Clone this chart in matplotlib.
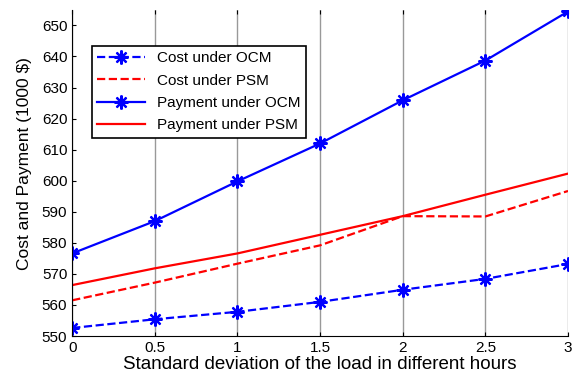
import numpy as np
import matplotlib.pyplot as plt

plt.rcParams['font.family'] = ['Liberation Sans', 'DejaVu Sans']

std_dev = [0, 0.5, 1, 1.5, 2, 2.5, 3]
cost_ocm = [552.6, 555.4, 557.8, 561.0, 564.9, 568.4, 573.2]
cost_psm = [561.5, 567.2, 573.3, 579.2, 588.6, 588.5, 596.7]
pay_ocm = [576.6, 587.0, 599.8, 612.0, 625.9, 638.7, 654.5]
pay_psm = [566.4, 571.8, 576.6, 582.6, 588.6, 595.5, 602.3]

fig = plt.figure(figsize=(5.82, 3.81), dpi=100)
ax = fig.add_axes([0.124, 0.118, 0.852, 0.856])

star = (8, 2, 0)
ax.plot(std_dev, cost_ocm, '--', color='blue', lw=1.6, marker=star, ms=10, mew=1.6, label='Cost under OCM')
ax.plot(std_dev, cost_psm, '--', color='red', lw=1.6, label='Cost under PSM')
ax.plot(std_dev, pay_ocm, '-', color='blue', lw=1.6, marker=star, ms=10, mew=1.6, label='Payment under OCM')
ax.plot(std_dev, pay_psm, '-', color='red', lw=1.6, label='Payment under PSM')

ax.set_xlim(0, 3)
ax.set_ylim(550, 655)
ax.set_xticks(std_dev)
ax.set_xticklabels(['0', '0.5', '1', '1.5', '2', '2.5', '3'])
ax.set_yticks(np.arange(550, 651, 10))
ax.tick_params(labelsize=11, direction='in', length=3, top=True)
ax.grid(True, axis='x', color='#999999', lw=1)
ax.spines['top'].set_visible(False)
ax.spines['right'].set_visible(False)

ax.set_xlabel('Standard deviation of the load in different hours', fontsize=13.5, labelpad=1)
ax.set_ylabel('Cost and Payment (1000 $)', fontsize=12.5)
ax.yaxis.set_label_coords(-0.08, 0.528)

leg = ax.legend(loc='upper left', bbox_to_anchor=(0.04, 0.89), borderaxespad=0,
                fontsize=11, fancybox=False, framealpha=1, edgecolor='black',
                handlelength=3.1, labelspacing=0.55, borderpad=0.35)
leg.get_frame().set_linewidth(1.2)

plt.savefig('out.png')
